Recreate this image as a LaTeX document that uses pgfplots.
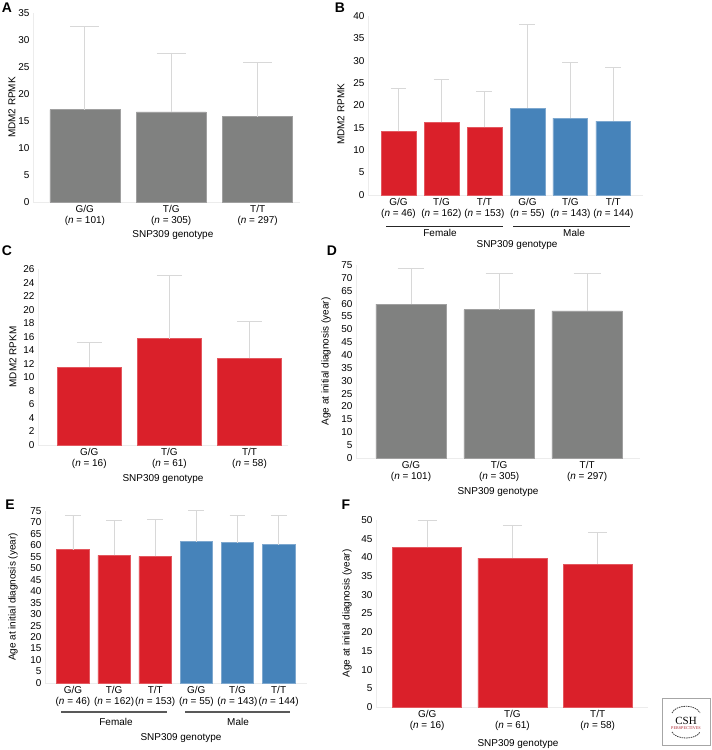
\documentclass[border=0pt]{standalone}
\usepackage{fontspec}
\setmainfont{Liberation Sans}
\newfontfamily\logofont{Liberation Serif}
\usepackage{pgfplots}
\pgfplotsset{compat=1.18}
\definecolor{barred}{RGB}{218,32,42}
\definecolor{barblue}{RGB}{70,131,186}
\definecolor{bargray}{RGB}{128,129,128}
\definecolor{errgray}{RGB}{216,216,216}
\definecolor{axgray}{RGB}{236,236,236}
\definecolor{logored}{RGB}{170,30,40}
\pgfplotsset{
  panel/.style={
    scale only axis, axis lines=left,
    axis line style={-, axgray, line width=0.6pt},
    major tick length=0pt, ymin=0, clip=false,
    tick label style={font=\fontsize{10}{11}\selectfont},
    xticklabel style={align=center},
    /pgf/number format/assume math mode=true,
    ybar, bar shift=0pt,
    label style={font=\fontsize{10}{12}\selectfont},
    ylabel style={anchor=center},
    xlabel style={anchor=center},
    error bars/y dir=plus, error bars/y explicit,
    error bars/error bar style={errgray, line width=0.7pt},
  },
  caps/.style={error bars/error mark options={rotate=90, errgray, line width=0.7pt, mark size=#1pt}},
}
\newcommand{\nn}[1]{(\textit{n} = #1)}
\begin{document}
\begin{tikzpicture}[x=1bp,y=1bp]
\path[use as bounding box] (0bp,0bp) rectangle (712bp,750bp);

% ---------- A ----------
\begin{axis}[panel, caps=14.5, at={(33bp,548bp)}, anchor=south west, width=267bp, height=189bp,
  xmin=-0.6, xmax=2.49, ymax=35, ytick={0,5,...,35}, bar width=0.81,
  xtick={0,1,2}, xticklabels={{G/G\\\nn{101}},{T/G\\\nn{305}},{T/T\\\nn{297}}},
  ylabel={MDM2 RPMK}, ylabel style={at={(rel axis cs:0,0.5)}, yshift=21bp},
  xlabel={SNP309 genotype}, xlabel style={at={(rel axis cs:0.524,0)}, yshift=-33bp}]
\addplot[fill=bargray, draw=bargray!75!white, line width=0.6pt] coordinates {(0,17.1) +- (0,15.4) (1,16.7) +- (0,10.9) (2,15.8) +- (0,10.0)};
\end{axis}

% ---------- B ----------
\begin{axis}[panel, caps=8, at={(368bp,555bp)}, anchor=south west, width=275bp, height=179bp,
  xmin=-0.71, xmax=5.69, ymax=40, ytick={0,5,...,40}, bar width=0.81,
  xtick={0,...,5}, xticklabels={{G/G\\\nn{46}},{T/G\\\nn{162}},{T/T\\\nn{153}},{G/G\\\nn{55}},{T/G\\\nn{143}},{T/T\\\nn{144}}},
  ylabel={MDM2 RPMK}, ylabel style={at={(rel axis cs:0,0.45)}, yshift=27bp},
  xlabel={SNP309 genotype}, xlabel style={at={(rel axis cs:0.542,0)}, yshift=-50bp}]
\addplot[fill=barred, draw=barred!75!white, line width=0.6pt] coordinates {(0,14.2) +- (0,9.6) (1,16.2) +- (0,9.6) (2,15.1) +- (0,8.1)};
\addplot[fill=barblue, draw=barblue!70!white, line width=0.6pt] coordinates {(3,19.4) +- (0,18.7) (4,17.2) +- (0,12.4) (5,16.5) +- (0,12.0)};
\end{axis}

% ---------- C ----------
\begin{axis}[panel, caps=12.5, at={(38bp,305bp)}, anchor=south west, width=250bp, height=176bp,
  xmin=-0.64, xmax=2.48, ymax=26, ytick={0,2,...,26}, bar width=0.8,
  xtick={0,1,2}, xticklabels={{G/G\\\nn{16}},{T/G\\\nn{61}},{T/T\\\nn{58}}},
  ylabel={MDM2 RPKM}, ylabel style={at={(rel axis cs:0,0.5)}, yshift=25bp},
  xlabel={SNP309 genotype}, xlabel style={at={(rel axis cs:0.5,0)}, yshift=-34bp}]
\addplot[fill=barred, draw=barred!75!white, line width=0.6pt] coordinates {(0,11.5) +- (0,3.6) (1,15.7) +- (0,9.3) (2,12.8) +- (0,5.4)};
\end{axis}

% ---------- D ----------
\begin{axis}[panel, caps=13.5, at={(356bp,292bp)}, anchor=south west, width=284bp, height=193bp,
  xmin=-0.625, xmax=2.6, ymax=75, ytick={0,5,...,75}, bar width=0.8,
  xtick={0,1,2}, xticklabels={{G/G\\\nn{101}},{T/G\\\nn{305}},{T/T\\\nn{297}}},
  ylabel={Age at initial diagnosis (year)}, ylabel style={at={(rel axis cs:0,0.5)}, yshift=30bp},
  xlabel={SNP309 genotype}, xlabel style={at={(rel axis cs:0.5,0)}, yshift=-34bp}]
\addplot[fill=bargray, draw=bargray!75!white, line width=0.6pt] coordinates {(0,59.8) +- (0,13.9) (1,57.7) +- (0,13.9) (2,57.2) +- (0,14.6)};
\end{axis}

% ---------- E ----------
\begin{axis}[panel, caps=8, at={(45bp,67bp)}, anchor=south west, width=262bp, height=172bp,
  xmin=-0.68, xmax=5.69, ymax=75, ytick={0,5,...,75}, bar width=0.79,
  xtick={0,...,5}, xticklabels={{G/G\\\nn{46}},{T/G\\\nn{162}},{T/T\\\nn{153}},{G/G\\\nn{55}},{T/G\\\nn{143}},{T/T\\\nn{144}}},
  ylabel={Age at initial diagnosis (year)}, ylabel style={at={(rel axis cs:0,0.5)}, yshift=32bp},
  xlabel={SNP309 genotype}, xlabel style={at={(rel axis cs:0.519,0)}, yshift=-55bp}]
\addplot[fill=barred, draw=barred!75!white, line width=0.6pt] coordinates {(0,58.1) +- (0,14.9) (1,55.7) +- (0,15.1) (2,55.2) +- (0,16.0)};
\addplot[fill=barblue, draw=barblue!70!white, line width=0.6pt] coordinates {(3,61.6) +- (0,13.7) (4,61.2) +- (0,11.9) (5,60.3) +- (0,12.8)};
\end{axis}

% ---------- F ----------
\begin{axis}[panel, caps=9.5, at={(376bp,43bp)}, anchor=south west, width=272bp, height=187bp,
  xmin=-0.6, xmax=2.59, ymax=50, ytick={0,5,...,50}, bar width=0.81,
  xtick={0,1,2}, xticklabels={{G/G\\\nn{16}},{T/G\\\nn{61}},{T/T\\\nn{58}}},
  ylabel={Age at initial diagnosis (year)}, ylabel style={at={(rel axis cs:0,0.5)}, yshift=29bp},
  xlabel={SNP309 genotype}, xlabel style={at={(rel axis cs:0.522,0)}, yshift=-37bp}]
\addplot[fill=barred, draw=barred!75!white, line width=0.6pt] coordinates {(0,42.7) +- (0,7.3) (1,39.8) +- (0,8.9) (2,38.2) +- (0,8.5)};
\end{axis}

% group lines and labels
\draw[black!85, line width=0.7pt] (386bp,524bp) -- (503bp,524bp);
\draw[black!85, line width=0.7pt] (513bp,524bp) -- (630bp,524bp);
\node[anchor=base, font=\fontsize{10}{12}\selectfont] at (440bp,513bp) {Female};
\node[anchor=base, font=\fontsize{10}{12}\selectfont] at (574bp,513bp) {Male};
\draw[black!65, line width=1.6pt] (61bp,38bp) -- (167bp,38bp);
\draw[black!65, line width=1.6pt] (185bp,38bp) -- (290bp,38bp);
\node[anchor=base, font=\fontsize{10}{12}\selectfont] at (116bp,25bp) {Female};
\node[anchor=base, font=\fontsize{10}{12}\selectfont] at (238bp,25bp) {Male};

% panel letters
\node[font=\fontsize{14}{14}\selectfont\bfseries] at (7bp,742bp) {A};
\node[font=\fontsize{14}{14}\selectfont\bfseries] at (340bp,742bp) {B};
\node[font=\fontsize{14}{14}\selectfont\bfseries] at (7bp,499bp) {C};
\node[font=\fontsize{14}{14}\selectfont\bfseries] at (332bp,499bp) {D};
\node[font=\fontsize{14}{14}\selectfont\bfseries] at (10bp,245bp) {E};
\node[font=\fontsize{14}{14}\selectfont\bfseries] at (346bp,245bp) {F};

% logo
\draw[gray!70, line width=0.6pt] (662bp,5bp) rectangle (710bp,52bp);
\draw[black!75, line width=0.8pt, dash pattern=on 1.5pt off 0.8pt] (672bp,37bp) .. controls (676bp,46bp) and (696bp,46bp) .. (700bp,37bp);
\draw[black!75, line width=0.8pt, dash pattern=on 1.5pt off 0.8pt] (672bp,18bp) .. controls (676bp,10bp) and (696bp,10bp) .. (700bp,18bp);
\node[font=\logofont\fontsize{11}{11}\selectfont] at (686bp,29.5bp) {CSH};
\node[font=\logofont\fontsize{4.2}{5}\selectfont, text=logored] at (686bp,21.5bp) {PERSPECTIVES};
\end{tikzpicture}
\end{document}
